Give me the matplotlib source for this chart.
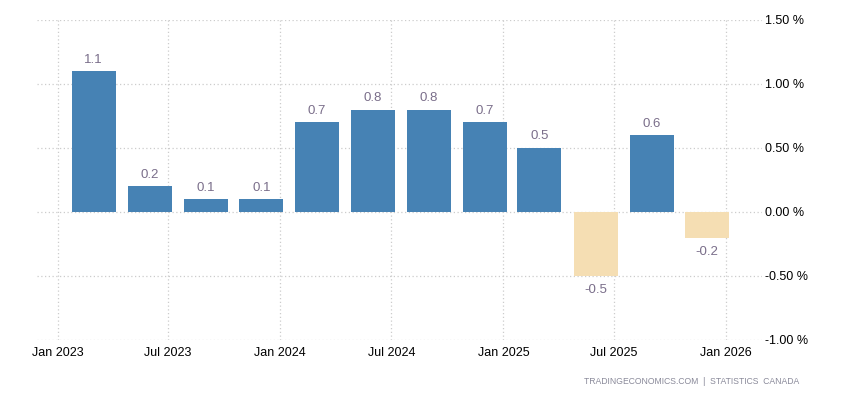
import numpy as np
import pandas as pd
import matplotlib
matplotlib.use('Agg')
import matplotlib.pyplot as plt
import matplotlib.dates as mdates

plt.rcParams['font.family'] = ['Liberation Sans', 'DejaVu Sans']

# Quarterly GDP growth (QoQ %), Canada
quarters = ['2023-03-01', '2023-06-01', '2023-09-01', '2023-12-01',
            '2024-03-01', '2024-06-01', '2024-09-01', '2024-12-01',
            '2025-03-01', '2025-06-01', '2025-09-01', '2025-12-01']
values = [1.1, 0.2, 0.1, 0.1, 0.7, 0.8, 0.8, 0.7, 0.5, -0.5, 0.6, -0.2]
yticks = [-1.0, -0.5, 0.0, 0.5, 1.0, 1.5]
xticks = ['2023-01-01', '2023-07-01', '2024-01-01', '2024-07-01',
          '2025-01-01', '2025-07-01', '2026-01-01']

dates = pd.to_datetime(quarters)
colors = ['#4682b4' if v >= 0 else '#f5deb3' for v in values]

fig = plt.figure(figsize=(8.5, 4), dpi=100)
ax = fig.add_axes([0.0435, 0.15, 0.853, 0.80])

ax.bar(dates, values, width=72, color=colors, zorder=2)

for d, v in zip(dates, values):
    if v >= 0:
        ax.annotate(f'{v:.1f}', (d, v), xytext=(0, 4), textcoords='offset points',
                    ha='center', va='bottom', color='#7a6e8a', fontsize=9.5)
    else:
        ax.annotate(f'{v:.1f}', (d, v), xytext=(0, -6), textcoords='offset points',
                    ha='center', va='top', color='#7a6e8a', fontsize=9.5)

ax.set_ylim(-1.0, 1.5)
ax.set_yticks(yticks)
ax.set_yticklabels([f'{t:.2f} %' for t in yticks])
ax.yaxis.tick_right()

ax.set_xlim(pd.Timestamp('2022-11-28'), pd.Timestamp('2026-03-01'))
ax.set_xticks(pd.to_datetime(xticks))
ax.xaxis.set_major_formatter(mdates.DateFormatter('%b %Y'))

ax.grid(True, color='#cccccc', linestyle=(0, (1, 2)), linewidth=0.9, zorder=0)
for s in ax.spines.values():
    s.set_visible(False)
ax.tick_params(axis='both', length=0, labelsize=9, colors='black')
ax.tick_params(axis='x', pad=5)
ax.tick_params(axis='y', pad=2)

fig.text(0.94, 0.045, 'TRADINGECONOMICS.COM  |  STATISTICS  CANADA', ha='right',
         va='center', fontsize=6.2, color='#8a8a9a')

fig.savefig('out.png', dpi=100)
